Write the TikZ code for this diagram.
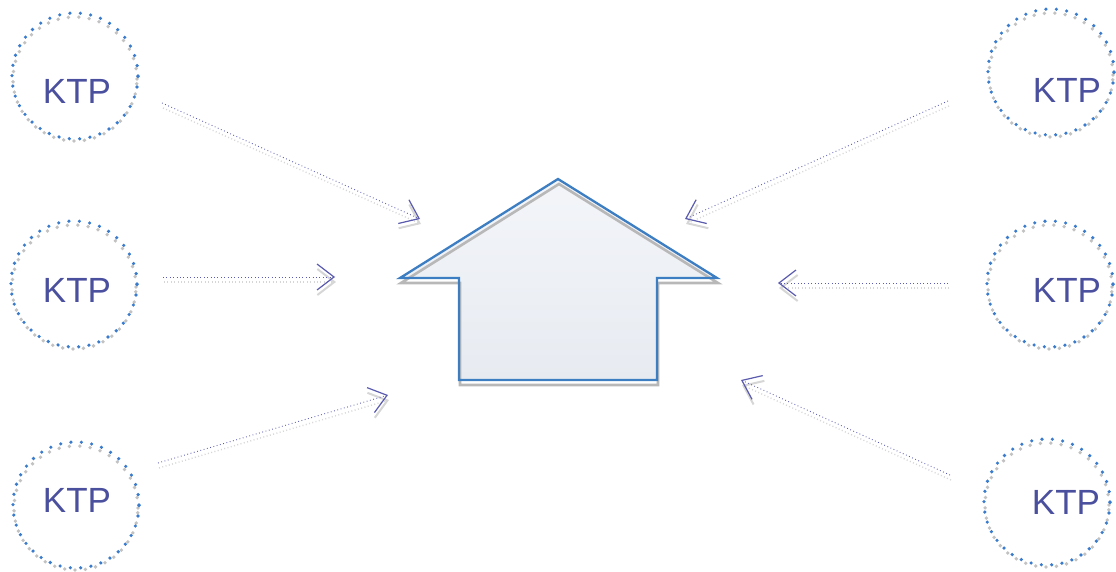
\documentclass[tikz,border=0pt]{standalone}
\usepackage{fontspec}
\setmainfont{Liberation Sans}
\usetikzlibrary{arrows.meta}
\definecolor{ktptext}{HTML}{4A4F9E}
\definecolor{dotblue}{HTML}{3A7CCB}
\definecolor{dotgrey}{HTML}{C2C2C2}
\definecolor{arrowcol}{HTML}{5A5AAE}
\definecolor{arrowshade}{HTML}{D6D6D6}
\definecolor{houseblue}{HTML}{3D7EC3}
\definecolor{housetop}{HTML}{F3F5F9}
\definecolor{housebot}{HTML}{E7EBF1}
\tikzset{
  ktpring/.style={circle, minimum size=126pt, inner sep=0pt, draw=dotblue, line width=3.6pt, dash pattern=on 0pt off 10.4pt, line cap=round},
  ktpshade/.style={circle, minimum size=124pt, inner sep=0pt, draw=dotgrey, line width=3.8pt, dash pattern=on 0pt off 10.4pt, line cap=round},
  ktplabel/.style={text=ktptext, font=\fontsize{35}{40}\selectfont, inner sep=0pt},
  flowarrow/.style={draw=arrowcol, line width=0.9pt, dash pattern=on 0.8pt off 2.6pt, -{Straight Barb[length=17pt,width=26pt,line width=1.2pt]}},
  flowshade/.style={draw=arrowshade, line width=1.4pt, dash pattern=on 1pt off 2.4pt, -{Straight Barb[length=17pt,width=26pt,line width=2pt]}},
}
\begin{document}
\begin{tikzpicture}[x=1pt,y=-1pt]
\useasboundingbox (0,0) rectangle (1116,572);
% circle shadows
\foreach \cx/\cy in {75/76, 74/284, 76/505, 1051/72, 1050/284, 1047/502}{
  \node[ktpshade] at (\cx,\cy+3) {};
}
% circles
\node[ktpring] (c1) at (75,76) {};
\node[ktpring] (c2) at (74,284) {};
\node[ktpring] (c3) at (76,505) {};
\node[ktpring] (c4) at (1051,72) {};
\node[ktpring] (c5) at (1050,284) {};
\node[ktpring] (c6) at (1047,502) {};
\node[ktplabel] (t1) at (77,91) {KTP};
\node[ktplabel] (t2) at (77,290) {KTP};
\node[ktplabel] (t3) at (77,500) {KTP};
\node[ktplabel] (t4) at (1067,90) {KTP};
\node[ktplabel] (t5) at (1067,290) {KTP};
\node[ktplabel] (t6) at (1066,502) {KTP};
% house
\coordinate (h1) at (558,179);
\coordinate (h2) at (400,278);
\coordinate (h3) at (459,278);
\coordinate (h4) at (459,380);
\coordinate (h5) at (657,380);
\coordinate (h6) at (657,278);
\coordinate (h7) at (717,278);
\shade[top color=housetop, bottom color=housebot] (h1) -- (h2) -- (h3) -- (h4) -- (h5) -- (h6) -- (h7) -- cycle;
\begin{scope}[shift={(1,5)}]
\draw[draw=black!28, line width=2.6pt, line join=miter] (558,179) -- (400,278) -- (459,278) -- (459,380) -- (657,380) -- (657,278) -- (717,278) -- cycle;
\end{scope}
\draw[draw=houseblue, line width=2.3pt, line join=miter] (h1) -- (h2) -- (h3) -- (h4) -- (h5) -- (h6) -- (h7) -- cycle;
% arrow endpoints
\coordinate (a1) at (162,103); \coordinate (b1) at (420,219);
\coordinate (a2) at (163,277); \coordinate (b2) at (335,277);
\coordinate (a3) at (158,463); \coordinate (b3) at (388,395);
\coordinate (a4) at (948,101); \coordinate (b4) at (685,219);
\coordinate (a5) at (948,283); \coordinate (b5) at (778,283);
\coordinate (a6) at (950,475); \coordinate (b6) at (741,380);
% arrow shadows
\begin{scope}[transform canvas={shift={(1pt,-5pt)}}]
\foreach \i in {1,...,6}{
  \draw[flowshade] (a\i) -- (b\i);
}
\end{scope}
% arrows
\foreach \i in {1,...,6}{
  \draw[flowarrow] (a\i) -- (b\i);
}
\end{tikzpicture}
\end{document}
